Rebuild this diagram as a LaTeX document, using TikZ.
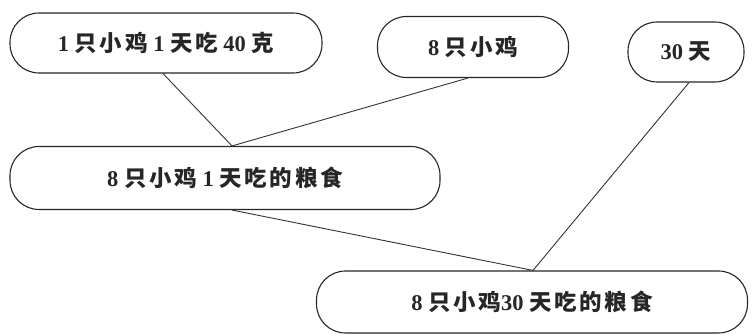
\documentclass[tikz,border=0pt]{standalone}
\usepackage{fontspec}
\setmainfont{Liberation Serif}
\newfontfamily\cjk{Noto Sans CJK SC}[LetterSpace=12]
\newcommand{\zh}[1]{{\cjk #1}}
\begin{document}
\begin{tikzpicture}[x=1pt,y=-1pt,
  box/.style={draw=black!85, line width=1.1pt, rounded corners=29pt, inner sep=0pt,
    font=\fontsize{22.5}{26}\selectfont\bfseries, text=black!85},
  link/.style={draw=black!80, line width=0.9pt}]
\useasboundingbox (0,0) rectangle (753,336);
\node[box, minimum width=312pt, minimum height=60pt] (n1) at (166,43) {1 \zh{只小鸡} 1 \zh{天吃} 40 \zh{克}};
\node[box, minimum width=191pt, minimum height=61pt] (n2) at (473,47) {8 \zh{只小鸡}};
\node[box, minimum width=116pt, minimum height=60pt] (n3) at (686,52) {30 \zh{天}};
\node[box, minimum width=430pt, minimum height=63pt] (n4) at (225,178) {8 \zh{只小鸡} 1 \zh{天吃的粮食}};
\node[box, minimum width=431pt, minimum height=62pt] (n5) at (532,302) {8 \zh{只小鸡}30 \zh{天吃的粮食}};
\draw[link] ([xshift=-3pt]n1.south) -- ([xshift=7pt]n4.north);
\draw[link] ([xshift=-5pt]n2.south) -- ([xshift=7pt]n4.north);
\draw[link] ([xshift=3pt]n3.south) -- ([xshift=1pt]n5.north);
\draw[link] ([xshift=7pt]n4.south) -- ([xshift=1pt]n5.north);
\end{tikzpicture}
\end{document}
